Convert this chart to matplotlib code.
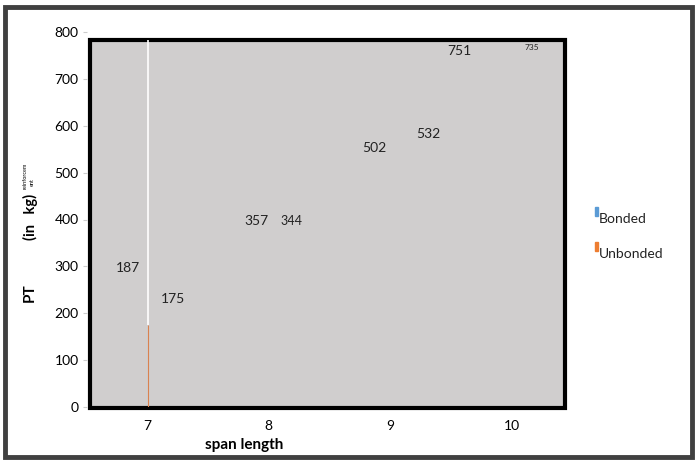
import matplotlib
matplotlib.use("Agg")
import matplotlib.pyplot as plt
from matplotlib.patches import Rectangle

# ---- data ----
span_length = [7, 8, 9, 10]
bonded = [187, 357, 502, 751]
unbonded = [175, 344, 532, 735]
y_ticks = [0, 100, 200, 300, 400, 500, 600, 700, 800]
series_names = ["Bonded", "Unbonded"]

# ---- style (label placement offsets, sizes) ----
bond_lbl_dx = [-0.16, -0.10, -0.13, -0.43]
bond_lbl_dy = [110, 40, 50, 8]
unb_lbl_dx = [0.21, 0.19, 0.31, 0.16]
unb_lbl_dy = [55, 53, 50, 33]
unb_lbl_size = [10, 9, 10, 6]

W, H = 696, 462
fig = plt.figure(figsize=(W / 100, H / 100), dpi=100)
plt.rcParams['font.family'] = ['Lato', 'DejaVu Sans']

# outer frame
fig.patches.append(Rectangle((5 / W, 5 / H), (W - 9) / W, (H - 12) / H,
                             transform=fig.transFigure, fill=False,
                             edgecolor='#404040', linewidth=3.5))

ax_left, ax_right = 87, 570
ax_top, ax_bot = 32, 407
ax = fig.add_axes([ax_left / W, (H - ax_bot) / H, (ax_right - ax_left) / W, (ax_bot - ax_top) / H])
ax.set_facecolor('none')
ax.set_xlim(6.507, 10.477)
ax.set_ylim(0, 800)
for s in ax.spines.values():
    s.set_visible(False)

# grey plot area with heavy black border
ax.add_patch(Rectangle((6.53, -2), 10.44 - 6.53, 785, facecolor='#d0cece',
                       edgecolor='black', linewidth=3, zorder=0, clip_on=False))

# bars (thin, as rendered in the reference)
ax.bar([x - 0.005 for x in span_length], bonded, width=0.0, color='#5b9bd5', zorder=1)
ax.vlines(span_length[0] + 0.01, 0, unbonded[0], color='#d9824f', linewidth=0.8, zorder=2)
ax.vlines(span_length[0] + 0.01, unbonded[0], 783, color='white', linewidth=1.2, zorder=2)

# data labels
for i, x in enumerate(span_length):
    ax.text(x + bond_lbl_dx[i], bonded[i] + bond_lbl_dy[i], str(bonded[i]),
            ha='center', va='center', fontsize=10, color='#222222')
    ax.text(x + unb_lbl_dx[i], unbonded[i] + unb_lbl_dy[i], str(unbonded[i]),
            ha='center', va='center', fontsize=unb_lbl_size[i], color='#222222')

ax.set_yticks(y_ticks)
ax.set_xticks(span_length)
ax.tick_params(axis='y', length=3, color='#cccccc', labelsize=10, pad=3)
ax.tick_params(axis='x', length=0, labelsize=10, pad=9)

# x label (placed left of centre, as in the reference)
fig.text(244 / W, 1 - 445 / H, 'span length', ha='center', va='center',
         fontsize=11, fontweight='bold')

# y label pieces
fig.text(30 / W, 1 - 293 / H, 'PT', rotation=90, ha='center', va='center',
         fontsize=11, fontweight='bold')
fig.text(30 / W, 1 - 217 / H, '(in   kg)', rotation=90, ha='center', va='center',
         fontsize=10.5, fontweight='bold')
fig.text(25 / W, 1 - 176 / H, 'reinforcem', rotation=90, ha='center', va='center',
         fontsize=4)
fig.text(32 / W, 1 - 182 / H, 'ent', rotation=90, ha='center', va='center',
         fontsize=4)

# legend
leg_colors = ['#5b9bd5', '#ed7d31']
leg_y = [215, 250]
for name, c, yy in zip(series_names, leg_colors, leg_y):
    fig.patches.append(Rectangle((595 / W, 1 - (yy + 1) / H), 3 / W, 9 / H,
                                 transform=fig.transFigure, color=c))
    fig.text(599 / W, 1 - (yy + 4) / H, name, ha='left', va='center', fontsize=10,
             color='#222222')

fig.savefig('out.png', dpi=100)
